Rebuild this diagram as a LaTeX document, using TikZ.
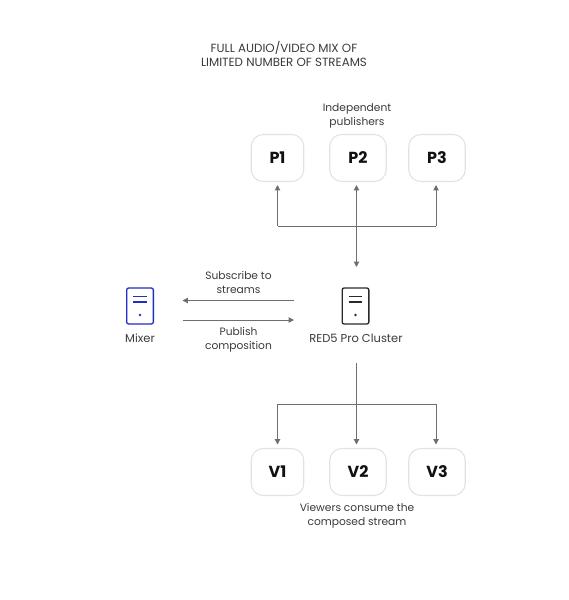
\documentclass[tikz,border=0pt]{standalone}
\usepackage{fontspec}
\setmainfont{Poppins}
\definecolor{boxline}{HTML}{E2E2E2}
\definecolor{conn}{HTML}{6E6E6E}
\definecolor{labelc}{HTML}{3A3A3A}
\definecolor{inkc}{HTML}{111111}
\definecolor{mixerblue}{HTML}{1F2FC0}
\definecolor{clusterink}{HTML}{2A2A2A}
\usetikzlibrary{arrows.meta}
\tikzset{
  unitbox/.style={draw=boxline,line width=0.8pt,rounded corners=9pt,minimum width=42.4pt,minimum height=35.25pt,inner sep=0pt,fill=white,font=\fontsize{12}{14}\selectfont\bfseries,text=inkc},
  narrowbox/.style={unitbox,minimum width=39.4pt},
  txt/.style={align=center,text=labelc,inner sep=0pt,font=\fontsize{8}{10.5}\selectfont},
  bigtxt/.style={txt,font=\fontsize{8.6}{10.5}\selectfont},
  link/.style={draw=conn,line width=0.75pt,-{Triangle[length=4pt,width=4pt]}},
  bar/.style={draw=conn,line width=0.75pt},
  icon/.style={draw=#1,line width=1pt,rounded corners=1.5pt,minimum width=20pt,minimum height=27pt,inner sep=0pt,fill=white}
}
\newcommand{\serverglyph}[2]{%
  \draw[#2,line width=0.8pt] ([xshift=-5.2pt,yshift=7.3pt]#1.center) -- ([xshift=5.2pt,yshift=7.3pt]#1.center);
  \draw[#2,line width=0.8pt] ([xshift=-5.2pt,yshift=3pt]#1.center) -- ([xshift=5.2pt,yshift=3pt]#1.center);
  \fill[#2] ([yshift=-6.7pt]#1.center) circle (1pt);
}
\begin{document}
\begin{tikzpicture}[x=0.75pt,y=-0.75pt]
\useasboundingbox (0,0) rectangle (568,600);
\node[txt,font=\fontsize{8.9}{10.5}\selectfont] (title) at (284,54) {FULL AUDIO/VIDEO MIX OF\\LIMITED NUMBER OF STREAMS};
\node[txt] (indep) at (357,116) {Independent\\publishers};
\node[narrowbox] (p1) at (277.5,158) {P1};
\node[unitbox] (p2) at (358,158) {P2};
\node[unitbox] (p3) at (437,158) {P3};
\node[narrowbox] (v1) at (277.5,472) {V1};
\node[unitbox] (v2) at (358,472) {V2};
\node[unitbox] (v3) at (437,472) {V3};
\node[txt] (viewers) at (357,516) {Viewers consume the\\composed stream};
\node[icon=mixerblue] (mixer) at (140,306) {};
\node[icon=clusterink] (cluster) at (355.5,306) {};
\serverglyph{mixer}{mixerblue}
\serverglyph{cluster}{clusterink}
\node[bigtxt] (mixerl) at (140,338) {Mixer};
\node[bigtxt] (clusterl) at (356,338) {RED5 Pro Cluster};
\node[txt] (sub) at (238.5,282) {Subscribe to\\streams};
\node[txt] (pub) at (238.5,339.5) {Publish\\composition};
% publisher side
\coordinate (ptop1) at (277.5,185);
\coordinate (ptop2) at (356.5,185);
\coordinate (ptop3) at (436,185);
\coordinate (j1) at (277.5,226);
\coordinate (j3) at (436,226);
\coordinate (pbot) at (356.5,267);
\draw[bar,{Triangle[length=4pt,width=4pt]}-{Triangle[length=4pt,width=4pt]}] (ptop2) -- (pbot);
\draw[link] (j1) -- (ptop1);
\draw[link] (j3) -- (ptop3);
\draw[bar] (j1) -- (j3);
% viewer side
\coordinate (vtop) at (356.5,363);
\coordinate (k1) at (277.5,404);
\coordinate (k3) at (436,404);
\coordinate (vend1) at (277.5,444.5);
\coordinate (vend2) at (356.5,444.5);
\coordinate (vend3) at (436,444.5);
\draw[link] (vtop) -- (vend2);
\draw[link] (k1) -- (vend1);
\draw[link] (k3) -- (vend3);
\draw[bar] (k1) -- (k3);
% mixer links
\coordinate (subs) at (294,300.5);
\coordinate (sube) at (182.5,300.5);
\coordinate (pubs) at (182.5,320);
\coordinate (pube) at (294,320);
\draw[link] (subs) -- (sube);
\draw[link] (pubs) -- (pube);
\end{tikzpicture}
\end{document}
